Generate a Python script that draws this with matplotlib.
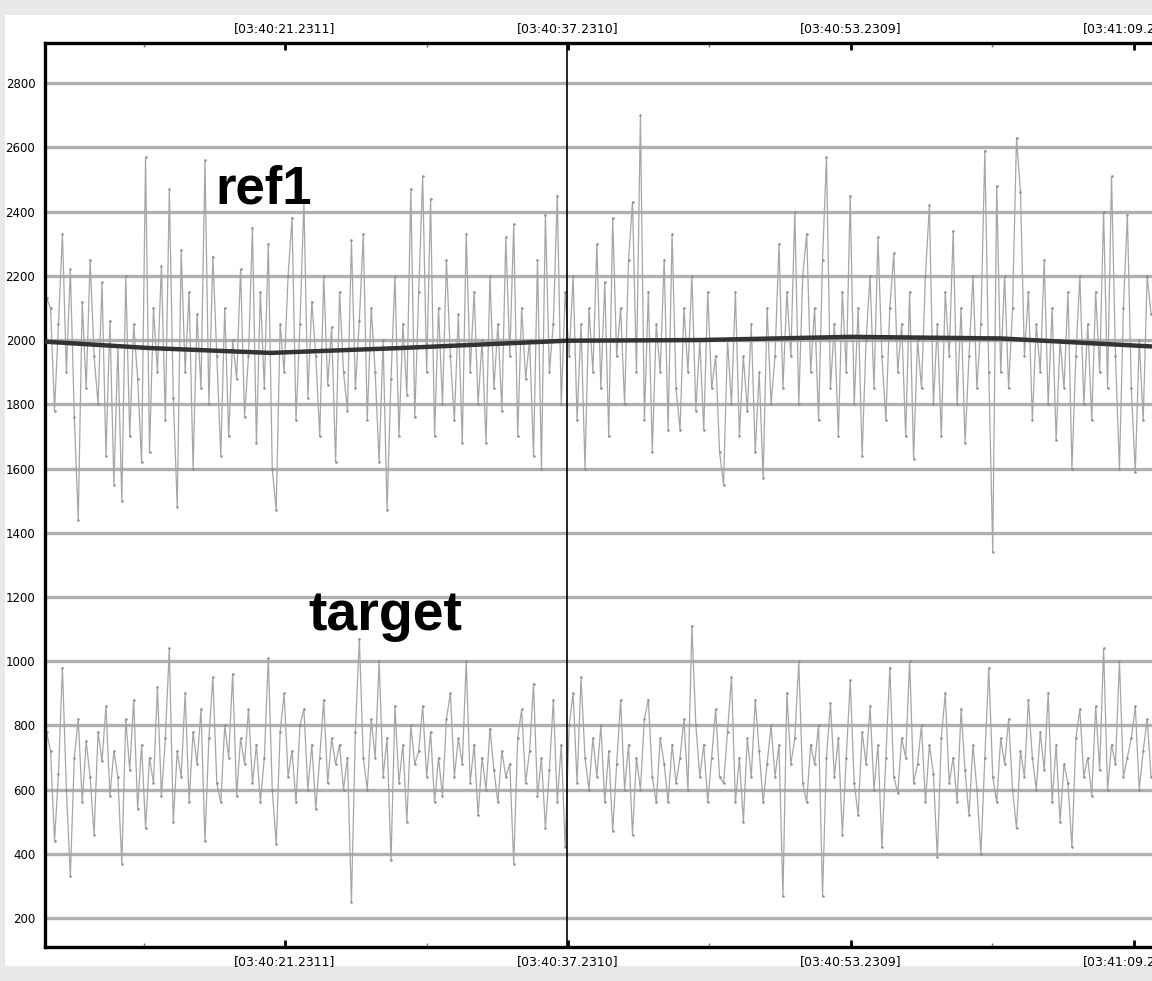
import numpy as np
import matplotlib.pyplot as plt
from matplotlib.patches import Rectangle

# ref1 samples (upper trace)
ref1 = [2130, 2100, 1780, 2050, 2330, 1900, 2220, 1760, 1440, 2120, 1850, 2250, 1950, 1800, 2180, 1640, 2060, 1550, 1980, 1500,
        2200, 1700, 2050, 1880, 1620, 2570, 1650, 2100, 1900, 2230, 1750, 2470, 1820, 1480, 2280, 1900, 2150, 1600, 2080, 1850,
        2560, 1800, 2260, 1950, 1640, 2100, 1700, 2000, 1880, 2220, 1760, 1950, 2350, 1680, 2150, 1850, 2300, 1600, 1470, 2050,
        1900, 2200, 2380, 1750, 2050, 2430, 1820, 2120, 1950, 1700, 2200, 1860, 2040, 1620, 2150, 1900, 1780, 2310, 1850, 2060,
        2330, 1750, 2100, 1900, 1620, 2000, 1470, 1880, 2200, 1700, 2050, 1830, 2470, 1760, 2150, 2510, 1900, 2440, 1700, 2100,
        1800, 2250, 1950, 1750, 2080, 1680, 2330, 1900, 2150, 1800, 2000, 1680, 2200, 1850, 2050, 1780, 2320, 1950, 2360, 1700,
        2100, 1880, 2000, 1640, 2250, 1600, 2390, 1900, 2050, 2450, 1800, 2150, 1950, 2200, 1750, 2050, 1600, 2100, 1900, 2300,
        1850, 2180, 1700, 2380, 1950, 2100, 1800, 2250, 2430, 1900, 2700, 1750, 2150, 1650, 2050, 1900, 2250, 1720, 2330, 1850,
        1720, 2100, 1900, 2200, 1780, 2000, 1720, 2150, 1850, 1950, 1650, 1550, 2000, 1800, 2150, 1700, 1950, 1780, 2050, 1650,
        1900, 1570, 2100, 1800, 1950, 2300, 1850, 2150, 1950, 2400, 1800, 2200, 2330, 1900, 2100, 1750, 2250, 2570, 1850, 2050,
        1700, 2150, 1900, 2450, 1800, 2100, 1640, 2000, 2200, 1850, 2320, 1950, 1750, 2100, 2270, 1900, 2050, 1700, 2150, 1630,
        2000, 1850, 2200, 2420, 1800, 2050, 1700, 2150, 1950, 2340, 1800, 2100, 1680, 1950, 2200, 1850, 2050, 2590, 1900, 1340,
        2480, 1900, 2200, 1850, 2100, 2630, 2460, 1950, 2150, 1750, 2050, 1900, 2250, 1800, 2100, 1690, 2000, 1850, 2150, 1600,
        1950, 2200, 1800, 2050, 1750, 2150, 1900, 2400, 1850, 2510, 1950, 1600, 2100, 2390, 1850, 1590, 2000, 1750, 2200, 2080]

# target samples (lower trace)
target = [780, 720, 440, 650, 980, 600, 330, 700, 820, 560, 750, 640, 460, 780, 690, 860, 580, 720, 640, 370,
          820, 660, 880, 540, 740, 480, 700, 620, 920, 580, 760, 1040, 500, 720, 640, 900, 560, 780, 680, 850,
          440, 760, 950, 620, 560, 800, 700, 960, 580, 760, 680, 850, 620, 740, 560, 700, 1010, 600, 430, 780,
          900, 640, 720, 560, 800, 850, 600, 740, 540, 700, 880, 620, 760, 680, 740, 600, 700, 250, 780, 1070,
          700, 600, 820, 700, 1000, 640, 760, 380, 860, 620, 740, 500, 800, 680, 720, 860, 640, 780, 560, 700,
          580, 820, 900, 640, 760, 680, 1000, 620, 740, 520, 700, 600, 790, 660, 560, 720, 640, 680, 370, 760,
          850, 620, 720, 930, 580, 700, 480, 660, 880, 560, 740, 420, 800, 900, 620, 950, 700, 600, 760, 640,
          800, 560, 720, 470, 680, 880, 600, 740, 460, 700, 600, 820, 880, 640, 560, 760, 680, 560, 740, 620,
          700, 820, 600, 1110, 800, 640, 740, 560, 700, 850, 640, 620, 780, 950, 560, 700, 500, 760, 640, 880,
          720, 560, 680, 800, 640, 740, 270, 900, 680, 760, 1000, 620, 560, 740, 680, 800, 270, 700, 870, 640,
          760, 460, 700, 940, 620, 520, 780, 680, 860, 600, 740, 420, 700, 980, 640, 590, 760, 700, 1000, 620,
          680, 800, 560, 740, 650, 390, 760, 900, 620, 700, 560, 850, 660, 520, 740, 600, 400, 700, 980, 640,
          560, 760, 680, 820, 600, 480, 720, 640, 880, 700, 600, 780, 660, 900, 560, 740, 500, 680, 620, 420,
          760, 850, 640, 700, 580, 860, 660, 1040, 600, 740, 680, 1000, 640, 700, 760, 860, 600, 720, 820, 640]

# slow trend of ref1 (seconds after 03:40:00, value)
trend_t = [7.66, 13.6, 20.4, 27.7, 37.2, 44.7, 53.2, 61.7, 70.25]
trend_v = [1995, 1975, 1960, 1975, 1998, 2000, 2010, 2005, 1980]

major_t = [21.2311, 37.2310, 53.2309, 69.2308]
major_lbl = ['[03:40:21.2311]', '[03:40:37.2310]', '[03:40:53.2309]', '[03:41:09.2308]']
minor_t = [13.2311, 29.2310, 45.2309, 61.2308]
cursor_t = 37.2

t = np.linspace(7.75, 70.2, len(ref1))

fig = plt.figure(figsize=(11.52, 9.81), dpi=100, facecolor='#e9e9e9')
fig.add_artist(Rectangle((0.0045, 0.0153), 0.996, 0.9694, transform=fig.transFigure,
                         facecolor='white', edgecolor='none', zorder=-5))
ax = fig.add_axes([45 / 1152, 1 - 947 / 981, 1 - 45 / 1152, (947 - 43) / 981])

ax.plot(t, ref1, color='#a6a6a6', lw=0.9, marker='o', ms=1.8, mfc='#8c8c8c', mec='none', zorder=2)
ax.plot(t, target, color='#a6a6a6', lw=0.9, marker='o', ms=1.8, mfc='#8c8c8c', mec='none', zorder=2)
ax.plot(trend_t, trend_v, color='#333333', lw=3.2, solid_capstyle='butt', zorder=3)
ax.axvline(cursor_t, color='black', lw=1.2, zorder=4)

ax.set_xlim(7.66, 70.25)
ax.set_ylim(110, 2925)
ax.set_yticks(range(200, 2801, 200))
ax.grid(axis='y', color='#b0b0b0', lw=2.4, zorder=1)
ax.set_axisbelow(True)

ax.set_xticks(major_t)
ax.set_xticklabels(major_lbl)
ax.set_xticks(minor_t, minor=True)
ax.tick_params(axis='x', which='major', direction='in', length=5, width=2, top=True,
               labeltop=True, labelsize=9, pad=6, colors='black')
ax.tick_params(axis='x', which='minor', direction='in', length=3, width=1, top=True, color='#777777')
ax.tick_params(axis='y', length=0, labelsize=8.5, pad=7)

for s in ['left', 'top', 'bottom']:
    ax.spines[s].set_linewidth(2.4)
ax.spines['right'].set_visible(False)

ax.text(17.27, 2426, 'ref1', fontsize=38, fontweight='bold', family='Liberation Sans', va='baseline')
ax.text(22.53, 1097, 'target', fontsize=40, fontweight='bold', family='Liberation Sans', va='baseline')

fig.savefig('out.png', dpi=100)
